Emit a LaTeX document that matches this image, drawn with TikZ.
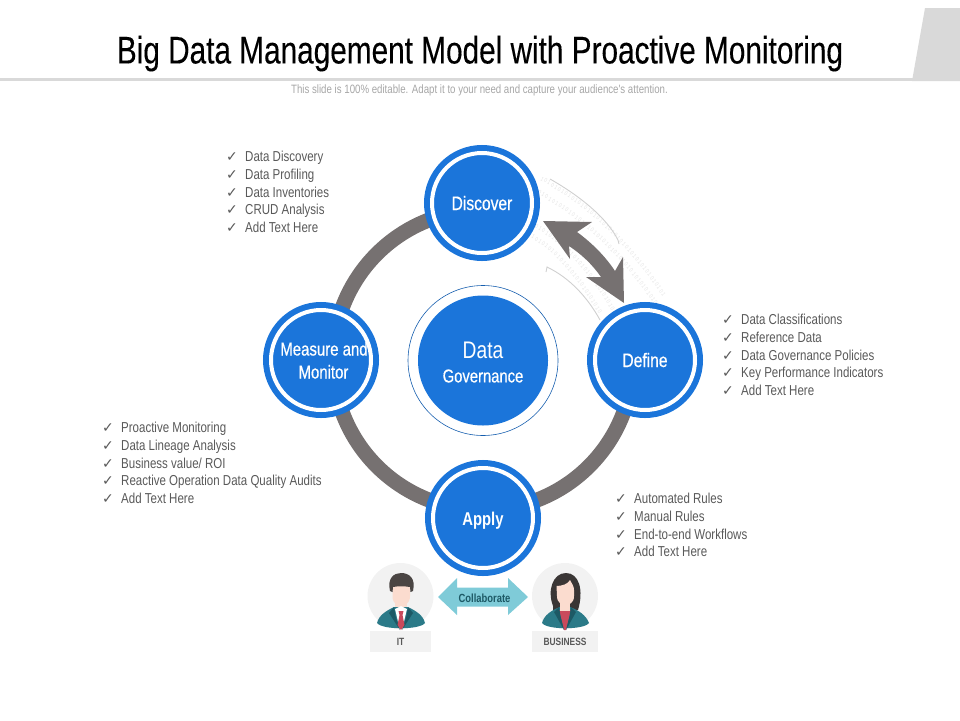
\documentclass[tikz,border=0pt]{standalone}
\usepackage{fontspec}
\usetikzlibrary{backgrounds,decorations.text}
\setmainfont{Liberation Sans}
\newfontfamily\nar[FakeStretch=0.80]{Liberation Sans}
\newfontfamily\narm[FakeStretch=0.80,FakeBold=0.5]{Liberation Sans}
\newfontfamily\ttl[FakeStretch=0.773,FakeBold=0.2]{Liberation Sans}
\newfontfamily\narb[FakeStretch=0.80]{Liberation Sans Bold}
\newfontfamily\chkf{DejaVu Sans}
\definecolor{bluemain}{HTML}{1B75DA}
\definecolor{ringgray}{HTML}{767171}
\definecolor{rulegray}{HTML}{D9D9D9}
\definecolor{listgray}{HTML}{595959}
\definecolor{subgray}{HTML}{A6A6A6}
\definecolor{softgray}{HTML}{F2F2F2}
\definecolor{thinarccol}{HTML}{D0D0D0}
\definecolor{digit}{HTML}{E4E4E4}
\definecolor{aqua}{HTML}{7FCBD8}
\definecolor{teal}{HTML}{2B7A88}
\definecolor{tealdk}{HTML}{1D5965}
\definecolor{skin}{HTML}{FBDCCF}
\definecolor{hairm}{HTML}{4A4543}
\definecolor{hairw}{HTML}{3A3635}
\definecolor{tie}{HTML}{C94A5C}
\newcommand{\fs}[1]{\fontsize{#1}{#1}\selectfont}
\newcommand{\ck}{\makebox[19pt][l]{\chkf\fontsize{14}{14}\selectfont\char"2713}}
\newcommand{\low}[1]{\raisebox{-7pt}[0pt][0pt]{\makebox[0pt]{#1}}}
\newcommand{\digs}{|\nar\fontsize{6}{6}\selectfont\color{digit}|1 0 1 0 1 0 1 0 1 0 1 0 1 0 1 0 1 0 1 0 1 0 1 0 1 0 1 0 1 0 1 0 1 0 1 0 1 0 1 0 1 0 1 0 1 0 1 0}
\tikzset{
  x=1pt,y=-1pt,
  stage/.style={circle,fill=bluemain,draw=bluemain,double=white,double distance=4pt,line width=6pt,
    minimum size=100pt,inner sep=0pt,text=white,align=center,font=\narm\fs{19.5}},
  band/.style={draw=ringgray,line width=15pt},
  listbox/.style={anchor=north west,inner sep=0pt,align=left,text=listgray,font=\nar\fs{14.4},execute at begin node={\baselineskip 17.75pt}},
  thinarc/.style={draw=thinarccol,line width=0.9pt},
  digits/.style={decorate,decoration={text along path,text={\digs}}},
  tag/.style={fill=softgray,inner sep=0pt,minimum height=21pt,text=listgray,font=\narb\fs{10.5}},
  avatar/.style={circle,fill=softgray,minimum size=66pt,inner sep=0pt},
}
\begin{document}
\begin{tikzpicture}
\useasboundingbox (0,0) rectangle (960,720);
% header
\fill[rulegray] (0,78) rectangle (915,81);
\fill[rulegray] (925,8) -- (960,8) -- (960,81) -- (912,81) -- cycle;
\node[inner sep=0pt,text=black,font=\ttl\fs{38.5}] (title) at (480,53.5) {Big Data Management Model with Proactive Monitoring};
\node[inner sep=0pt,text=subgray,font=\nar\fs{12.1}] (subtitle) at (479.5,90.5) {This slide is 100\% editable. Adapt it to your need and capture your audience's attention.};

% stages
\node[stage] (discover) at (482,203) {\low{Discover}};
\node[stage] (define) at (645,360) {\low{Define}};
\node[stage,font=\narb\fs{18.5}] (apply) at (483,518) {\low{Apply}};
\node[stage,font=\narm\fs{18.7}] (measure) at (321,360) {\makebox[0pt]{\raisebox{4.5pt}[0pt][0pt]{\makebox[0pt]{\hspace*{6pt}Measure and}}\raisebox{-18.5pt}[0pt][0pt]{\makebox[0pt]{\hspace*{5pt}Monitor}}}};
\coordinate (ringN) at (483,210);
\coordinate (ringW) at (333,360);
\coordinate (ringS) at (483,510);
\coordinate (ringE) at (633,360);
\begin{scope}[on background layer]
  \draw[band] (ringN) to[out=180,in=90] (ringW);
  \draw[band] (ringW) to[out=-90,in=180] (ringS);
  \draw[band] (ringS) to[out=0,in=-90] (ringE);
  % binary texture
  \path[digits] (540,180) .. controls (585,205) and (625,240) .. (662,296);
  \path[digits] (534,192) .. controls (580,217) and (618,252) .. (654,304);
  \path[digits] (531,226) .. controls (562,242) and (590,272) .. (612,312);
  \path[digits] (531,238) .. controls (556,252) and (578,279) .. (600,316);
\end{scope}

% centre
\node[circle,draw=bluemain!80!black,line width=0.6pt,minimum size=150pt,inner sep=0pt] (halo) at (483,360.5) {};
\node[circle,fill=bluemain,minimum size=130pt,inner sep=0pt,text=white,align=center] (core) at (483,360.5) {};
\node[inner sep=0pt,text=white,font=\nar\fs{24}] (coreA) at (483,350) {Data};
\node[inner sep=0pt,text=white,font=\narm\fs{18.5}] (coreB) at (483,376) {Governance};

% thin arcs
\draw[thinarc] (550,179) .. controls (580,196) and (607,218) .. (618,240) -- (619,244);
\draw[thinarc] (546,272) -- (547,267) .. controls (570,278) and (588,298) .. (600,320);
% double arrow between discover and define
\fill[ringgray] (543,221) -- (592,222) -- (577,232) .. controls (592,243) and (605,256) .. (615,271)
  -- (623,257) -- (624,303) -- (586,277) -- (601,277) .. controls (592,264) and (581,254) .. (569,246)
  -- (570,259) -- cycle;

% lists
\node[listbox] (listA) at (226,151) {\ck Data Discovery\\\ck Data Profiling\\\ck Data Inventories\\\ck CRUD Analysis\\\ck Add Text Here};
\node[listbox] (listB) at (722,314) {\ck Data Classifications\\\ck Reference Data\\\ck Data Governance Policies\\\ck Key Performance Indicators\\\ck Add Text Here};
\node[listbox] (listC) at (102,422) {\ck Proactive Monitoring\\\ck Data Lineage Analysis\\\ck Business value/ ROI\\\ck Reactive Operation Data Quality Audits\\\ck Add Text Here};
\node[listbox] (listD) at (615,493) {\ck Automated Rules\\\ck Manual Rules\\\ck End-to-end Workflows\\\ck Add Text Here};

% people
\node[avatar] (manbg) at (400.5,596) {};
\node[avatar] (womanbg) at (565,596) {};
\node[tag,minimum width=61pt] (it) at (400.5,641.5) {IT};
\node[tag,minimum width=66pt] (business) at (565,641.5) {BUSINESS};
% man
\fill[skin] (395,600) rectangle (407,612);
\fill[teal] (377,623) .. controls (379,615) and (386,611) .. (394,607) -- (408,607) .. controls (416,611) and (423,615) .. (425,623) .. controls (420,630) and (382,630) .. (377,623) -- cycle;
\fill[white] (395,609) -- (401,606) -- (407,609) -- (402,630) -- (400,630) -- cycle;
\fill[tealdk] (394,607) -- (389,613) -- (400,630) -- (395.5,616) -- cycle;
\fill[tealdk] (408,607) -- (413,613) -- (402,630) -- (406.5,616) -- cycle;
\fill[tie] (398.5,611) -- (403.5,611) -- (402.5,615) -- (404.5,625) -- (401,630) -- (397.5,625) -- (399.5,615) -- cycle;
\fill[skin] (392.5,584) -- (410,584) -- (410,596) .. controls (410,604) and (404,606) .. (401,606) .. controls (398,606) and (392.5,604) .. (392.5,596) -- cycle;
\fill[hairm] (390,591) .. controls (387,578) and (394,573) .. (401,573) .. controls (409,573) and (416,578) .. (413,591) -- (410.5,592) -- (410,587) .. controls (404,586) and (398,586) .. (393,587) -- (392.5,592) -- cycle;
% woman
\fill[hairw] (553,606) .. controls (547,590) and (553,573) .. (566,573) .. controls (579,573) and (584,590) .. (578,610) -- (553,610) -- cycle;
\fill[teal] (542,623) .. controls (544,615) and (552,610) .. (560,607) -- (570,607) .. controls (578,610) and (586,615) .. (589,623) .. controls (584,630) and (547,630) .. (542,623) -- cycle;
\fill[tie] (559,610) -- (571,610) -- (566,630) -- (564,630) -- cycle;
\fill[skin] (560,600) rectangle (570,611);
\fill[skin] (556.5,586) .. controls (562,586) and (568,584) .. (570,580) .. controls (572,584) and (574,586) .. (574,590) -- (574,596) .. controls (574,603) and (569,605) .. (565.5,605) .. controls (562,605) and (557,603) .. (557,596) -- cycle;
\fill[tealdk] (559,607) -- (554,612) -- (564,630) -- (560.5,616) -- cycle;
\fill[tealdk] (571,607) -- (576,612) -- (566,630) -- (569.5,616) -- cycle;

% collaborate
\fill[aqua] (438,597) -- (457,578) -- (457,587.5) -- (508,587.5) -- (508,578) -- (528,597) -- (508,615) -- (508,606.5) -- (457,606.5) -- (457,615) -- cycle;
\node[inner sep=0pt,text=tealdk,font=\narb\fs{11.8}] (collab) at (484.5,598) {Collaborate};
\end{tikzpicture}
\end{document}
